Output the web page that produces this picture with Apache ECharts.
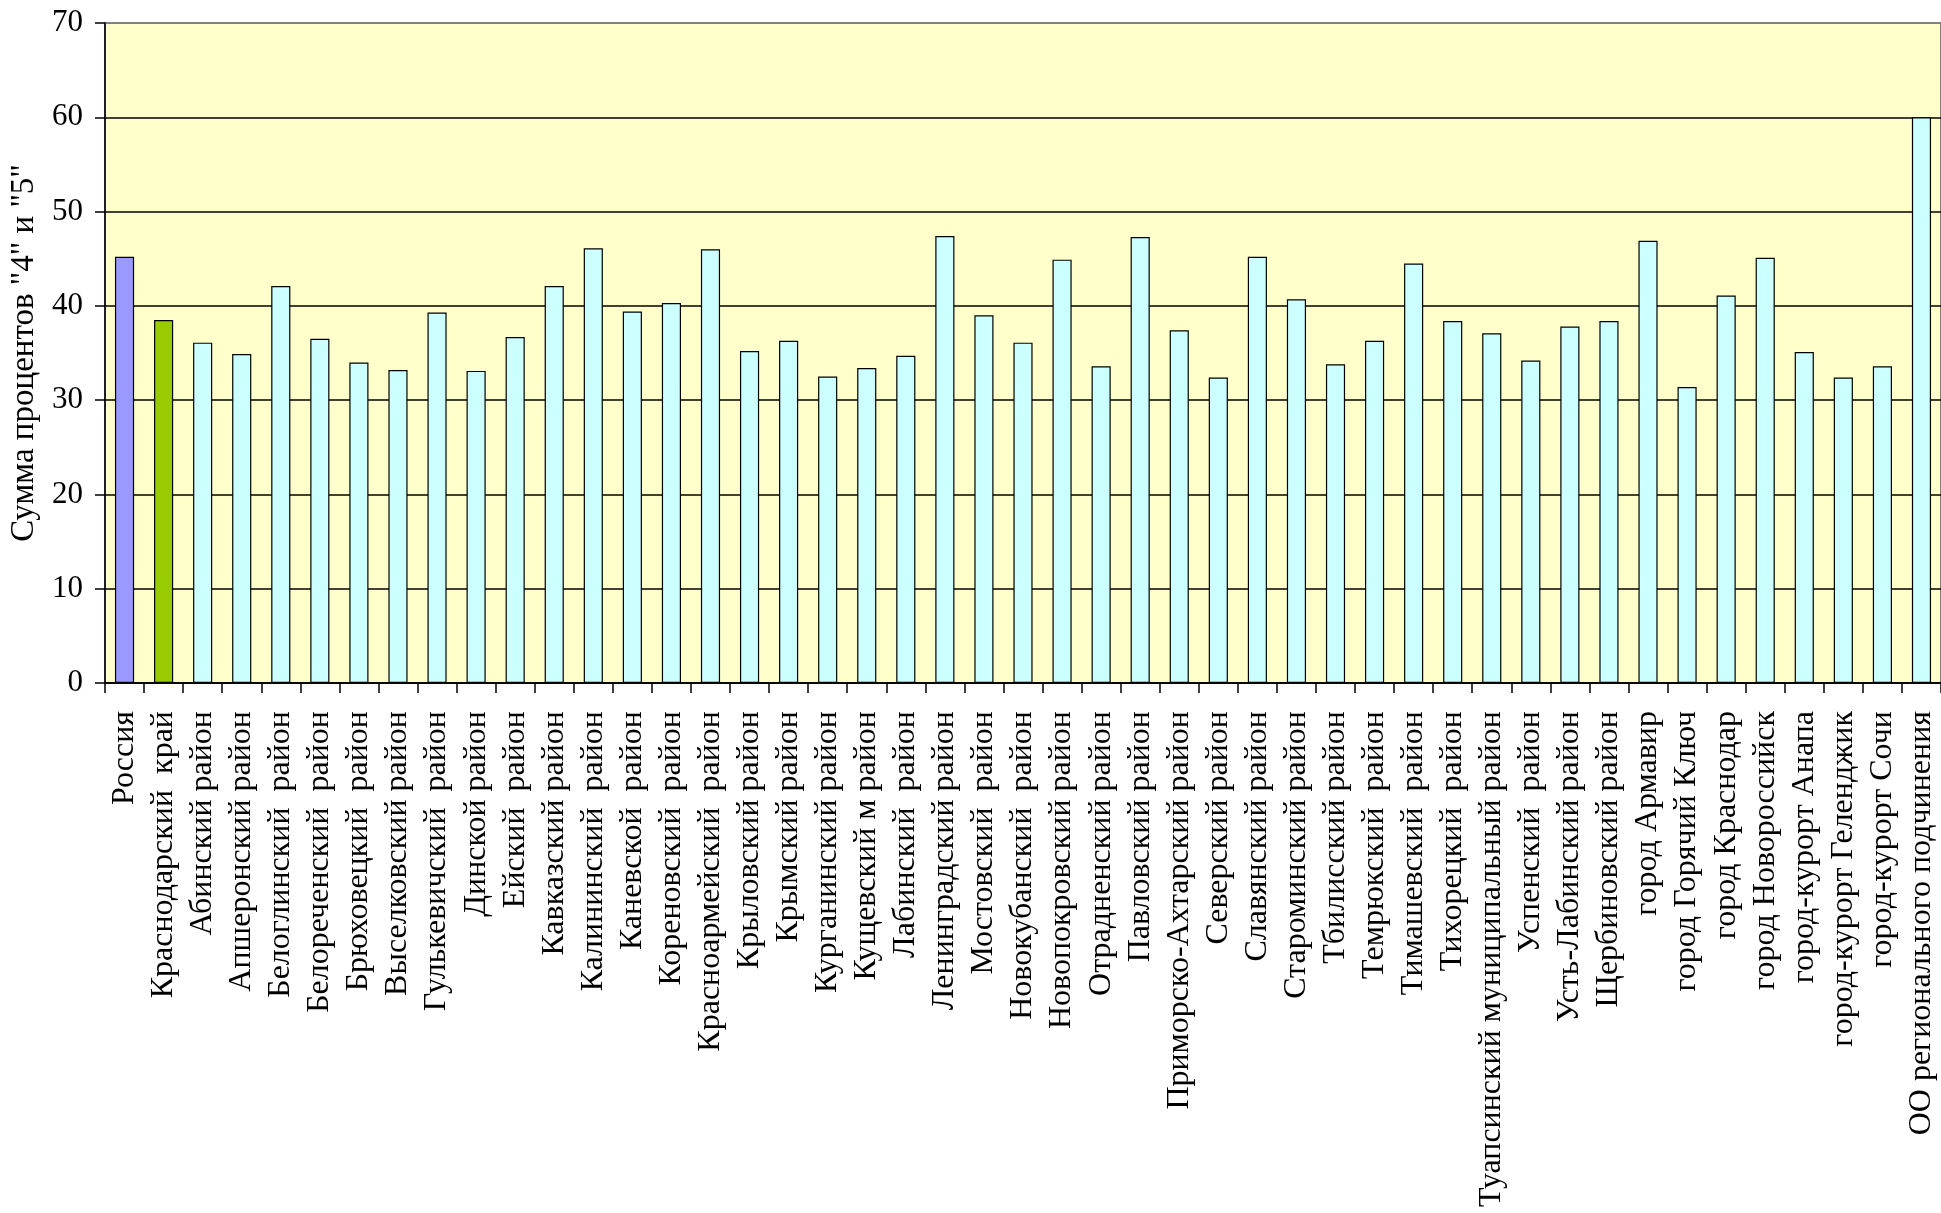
<!DOCTYPE html>
<html>
<head>
<meta charset="utf-8">
<script src="https://cdn.jsdelivr.net/npm/echarts@6/dist/echarts.min.js"></script>
<style>
html,body{margin:0;padding:0;background:#fff;}
#chart{width:1941px;height:1213px;}
</style>
</head>
<body>
<div id="chart"></div>
<script>
var categories = [
  "Россия",
  "Краснодарский  край",
  "Абинский район",
  "Апшеронский район",
  "Белоглинский  район",
  "Белореченский  район",
  "Брюховецкий  район",
  "Выселковский район",
  "Гулькевичский  район",
  "Динской район",
  "Ейский  район",
  "Кавказский район",
  "Калининский  район",
  "Каневской  район",
  "Кореновский  район",
  "Красноармейский  район",
  "Крыловский район",
  "Крымский район",
  "Курганинский район",
  "Кущевский м район",
  "Лабинский  район",
  "Ленинградский район",
  "Мостовский  район",
  "Новокубанский  район",
  "Новопокровский район",
  "Отрадненский район",
  "Павловский район",
  "Приморско-Ахтарский район",
  "Северский район",
  "Славянский район",
  "Староминский район",
  "Тбилисский район",
  "Темрюкский  район",
  "Тимашевский  район",
  "Тихорецкий  район",
  "Туапсинский муниципальный район",
  "Успенский  район",
  "Усть-Лабинский район",
  "Щербиновский район",
  "город Армавир",
  "город Горячий Ключ",
  "город Краснодар",
  "город Новороссийск",
  "город-курорт Анапа",
  "город-курорт Геленджик",
  "город-курорт Сочи",
  "ОО регионального подчинения"
];
var values = [
  45.2, 38.5, 36.1, 34.9, 42.1, 36.5, 34.0, 33.2, 39.3, 33.1,
  36.7, 42.1, 46.1, 39.4, 40.3, 46.0, 35.2, 36.3, 32.5, 33.4,
  34.7, 47.4, 39.0, 36.1, 44.9, 33.6, 47.3, 37.4, 32.4, 45.2,
  40.7, 33.8, 36.3, 44.5, 38.4, 37.1, 34.2, 37.8, 38.4, 46.9,
  31.4, 41.1, 45.1, 35.1, 32.4, 33.6, 60.0
];
var yTicks = [0, 10, 20, 30, 40, 50, 60, 70];
var yTitle = 'Сумма процентов "4" и "5"';

var FONT = '"Liberation Serif", "Times New Roman", serif';
var barColor = function (i) {
  if (i === 0) return '#9999FF';
  if (i === 1) return '#99CC00';
  return '#CCFFFF';
};
var seriesData = values.map(function (v, i) {
  return { value: v, itemStyle: { color: barColor(i) } };
});
var splitColors = yTicks.map(function (t, i) {
  return i === yTicks.length - 1 ? '#808080' : '#000000';
});

var chart = echarts.init(document.getElementById('chart'), null, { renderer: 'canvas' });
chart.setOption({
  animation: false,
  backgroundColor: '#ffffff',
  grid: {
    left: 105, top: 23, width: 1839, height: 660,
    show: true, backgroundColor: '#FFFFCC', borderColor: '#808080', borderWidth: 2
  },
  xAxis: {
    type: 'category',
    data: categories,
    axisLine: { show: true, lineStyle: { color: '#000', width: 1.5 } },
    axisTick: { show: true, length: 10, lineStyle: { color: '#000', width: 1.5 } },
    axisLabel: {
      rotate: 90, interval: 0, margin: 28,
      fontFamily: FONT, fontSize: 32, color: '#000'
    },
    splitLine: { show: false }
  },
  yAxis: {
    type: 'value',
    min: yTicks[0], max: yTicks[yTicks.length - 1], interval: 10,
    name: yTitle,
    nameLocation: 'middle',
    nameGap: 62,
    nameRotate: 90,
    nameTextStyle: { fontFamily: FONT, fontSize: 33, color: '#000' },
    axisLine: { show: true, lineStyle: { color: '#000', width: 1.5 } },
    axisTick: { show: true, length: 10, lineStyle: { color: '#000', width: 1.5 } },
    axisLabel: { margin: 22, fontFamily: FONT, fontSize: 31, color: '#000' },
    splitLine: { show: true, lineStyle: { color: splitColors, width: 1.5 } }
  },
  series: [{
    type: 'bar',
    data: seriesData,
    barWidth: '49%',
    itemStyle: { borderColor: '#000', borderWidth: 1.2 }
  }]
});
</script>
</body>
</html>
